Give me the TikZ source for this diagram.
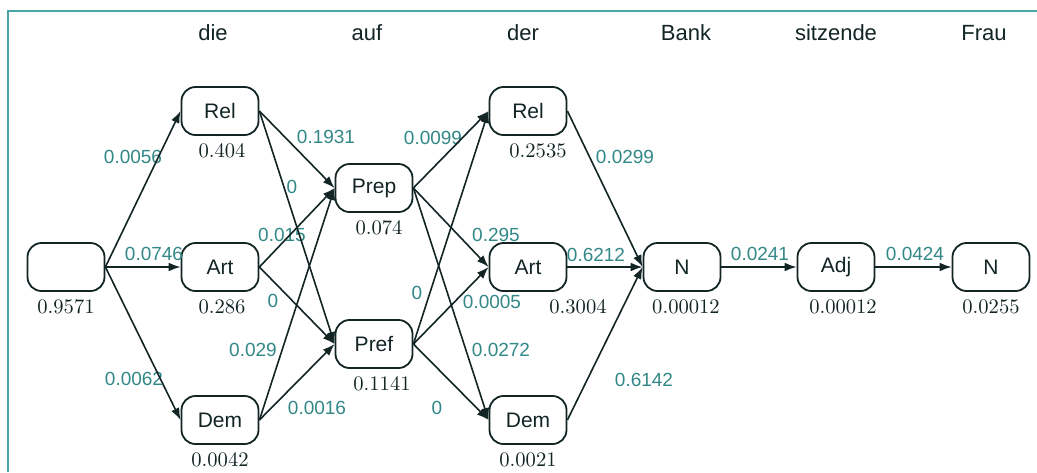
\documentclass[tikz,border=0pt]{standalone}
\usepackage{fontspec}
\newfontfamily\helv{Liberation Sans}
\usetikzlibrary{arrows.meta,positioning}

\definecolor{ink}{RGB}{18,36,36}
\definecolor{wgt}{RGB}{50,135,135}
\definecolor{rahmen}{RGB}{75,165,165}

\tikzset{
	state/.style={draw=ink,line width=0.9pt,rounded corners=7pt,
		minimum width=38.5pt,minimum height=24pt,inner sep=0pt,
		text=ink,font=\helv\fontsize{10.5}{12}\selectfont},
	word/.style={text=ink,font=\helv\fontsize{11}{13}\selectfont},
	prob/.style={text=ink,font=\fontsize{10.3}{12}\selectfont,inner sep=0pt},
	weight/.style={text=wgt,font=\helv\fontsize{9.5}{11}\selectfont,inner sep=0pt},
	trans/.style={draw=ink,line width=0.8pt,-{Latex[length=6pt,width=4.4pt]}}
}

\begin{document}
\begin{tikzpicture}[x=0.5pt,y=-0.5pt]
		\useasboundingbox (0,0) rectangle (1037,472);
		\draw[rahmen,line width=0.9pt] (8,472) |- (1037,11);
		% Satz oben
		\foreach \x/\w [count=\i] in {213/die,367/auf,523/der,686/Bank,836/sitzende,984/Frau}
		\node[word] (word\i) at (\x,33) {\w};
		% Zustaende
		\node[state] (s) at (66,267) {};
		\node[state] (rel1) at (220,111) {Rel};
		\node[state] (art1) at (220,267) {Art};
		\node[state] (dem1) at (220,420) {Dem};
		\node[state] (prep) at (374,188) {Prep};
		\node[state] (pref) at (374,344) {Pref};
		\node[state] (rel3) at (528,111) {Rel};
		\node[state] (art3) at (528,267) {Art};
		\node[state] (dem3) at (528,420) {Dem};
		\node[state] (n1) at (682,267) {N};
		\node[state] (adj) at (836,267) {Adj};
		\node[state] (n2) at (991,267) {N};
		% Wahrscheinlichkeiten unter den Zustaenden
		\foreach \n/\p/\dx in {s/0.9571/0,rel1/0.404/1,art1/0.286/1,dem1/0.0042/0,
			prep/0.074/2.5,pref/0.1141/4,rel3/0.2535/5,art3/0.3004/25,dem3/0.0021/0,
			n1/0.00012/2,adj/0.00012/3.5,n2/0.0255/0}
		\node[prob,below=3.5pt of \n,xshift=\dx pt] (p\n) {\p};
		% Uebergangsgewichte
		\foreach \x/\y/\w [count=\i] in {133/157/0.0056,154/254/0.0746,134/379/0.0062,
			326/137/0.1931,292/187/0,282/235/0.015,273/301/0,253/350/0.029,317/408/0.0016,
			433/138/0.0099,496/235/0.295,417/293/0,492/302/0.0005,501/350/0.0272,437/408/0,
			625/157/0.0299,596/255/0.6212,644/380/0.6142,760/254/0.0241,915/254/0.0424}
		\node[weight] (w\i) at (\x,\y) {\w};
		\foreach \a/\b in {s/rel1,s/art1,s/dem1,rel1/prep,rel1/pref,art1/prep,art1/pref,
			dem1/prep,dem1/pref,prep/rel3,prep/art3,prep/dem3,pref/rel3,pref/art3,pref/dem3,
			rel3/n1,art3/n1,dem3/n1,n1/adj,adj/n2}
		\draw[trans] (\a.east) -- (\b.west);
	\end{tikzpicture}
\end{document}
